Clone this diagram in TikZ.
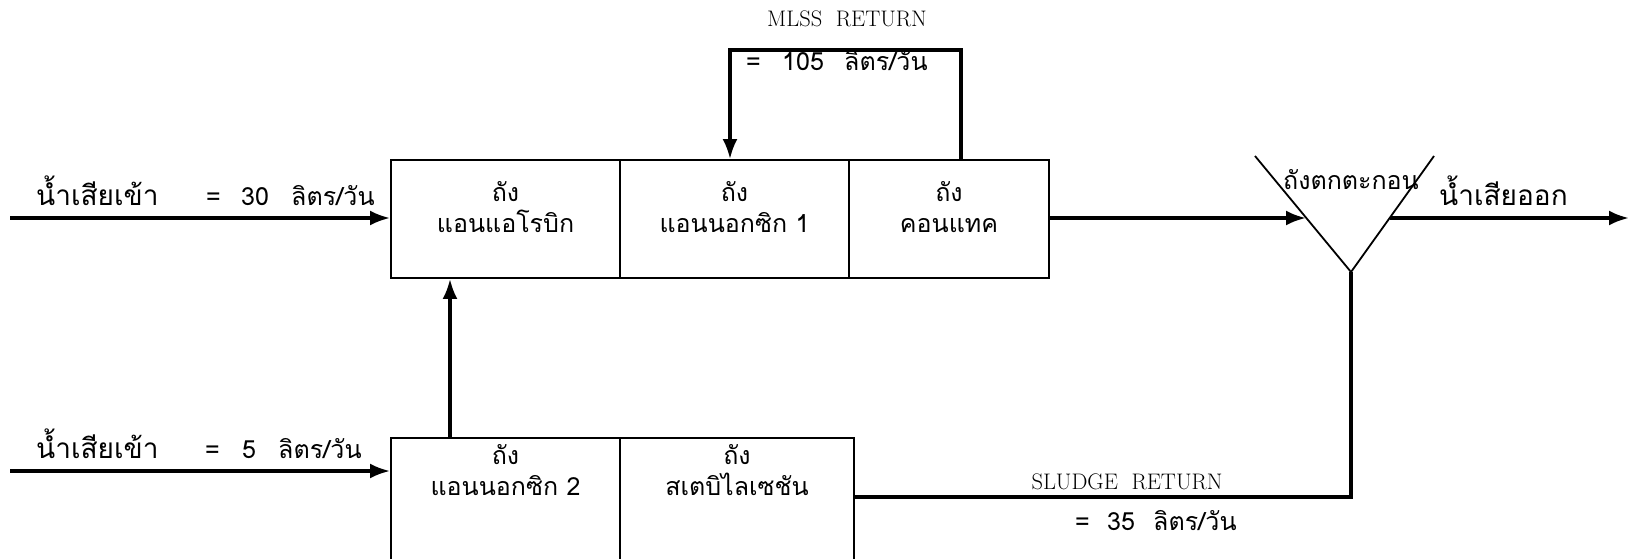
\documentclass[tikz,border=0pt]{standalone}
\usepackage{fontspec}
\newfontfamily\thai[Script=Thai]{Loma}
\usetikzlibrary{arrows.meta}
\tikzset{
  tank/.style={draw, line width=1.8pt, minimum height=118pt, inner sep=0pt},
  flow/.style={line width=3.4pt, -{Latex[length=20pt,width=15pt]}},
  plain/.style={line width=3.4pt},
  vline/.style={line width=1.8pt},
  th/.style={font=\thai\fontsize{25}{31}\selectfont, inner sep=0pt, align=center},
  thl/.style={font=\thai\fontsize{28}{31}\selectfont, inner sep=0pt, anchor=base west},
  lb/.style={font=\thai\fontsize{25}{31}\selectfont, inner sep=0pt, anchor=base west},
  en/.style={font=\fontsize{22.5}{26}\selectfont, inner sep=0pt},
}
\begin{document}
\begin{tikzpicture}[x=1pt,y=-1pt]
\clip (0,0) rectangle (1629,558);
\fill[white] (0,0) rectangle (1629,558);
% top tanks
\node[tank, minimum width=229pt] (b1) at (505.5,219) {};
\node[tank, minimum width=229pt] (b2) at (734.5,219) {};
\node[tank, minimum width=200pt] (b3) at (949,219) {};
\node[th] (t1) at (505.5,207) {ถัง\\แอนแอโรบิก};
\node[th] (t2) at (734.5,207) {ถัง\\แอนนอกซิก 1};
\node[th] (t3) at (949,207) {ถัง\\คอนแทค};
% bottom tanks
\node[tank, minimum width=229pt, minimum height=127pt] (c1) at (505.5,501.5) {};
\node[tank, minimum width=234pt, minimum height=127pt] (c2) at (737,501.5) {};
\node[th] (t4) at (505.5,470) {ถัง\\แอนนอกซิก 2};
\node[th] (t5) at (737,470) {ถัง\\สเตบิไลเซชัน};
% inflows
\coordinate (in1) at (10,218);
\coordinate (in2) at (10,471);
\draw[flow] (in1) -- (b1.west |- in1);
\draw[flow] (in2) -- (c1.west |- in2);
\node[thl] (l1a) at (36,205) {น้ำเสียเข้า};
\node[lb] (l1b) at (206,205) {=};
\node[lb] (l1c) at (241,205) {30};
\node[lb] (l1d) at (291,205) {ลิตร/วัน};
\node[thl] (l2a) at (36,458) {น้ำเสียเข้า};
\node[lb] (l2b) at (205,458) {=};
\node[lb] (l2c) at (242,458) {5};
\node[lb] (l2d) at (278,458) {ลิตร/วัน};
% up arrow
\coordinate (ux) at (450,0);
\draw[flow] (c1.north -| ux) -- (b1.south -| ux);
% MLSS return
\coordinate (mr) at (961,50);
\coordinate (ml) at (730,50);
\draw[flow] (b3.north -| mr) -- (mr) -- (ml) -- (b2.north -| ml);
\node[en] (mlss) at (847,19) {MLSS\ \ RETURN};
\node[lb] (m105a) at (746,70) {=};
\node[lb] (m105b) at (782,70) {105};
\node[lb] (m105c) at (844,70) {ลิตร/วัน};
% settling tank
\coordinate (vl) at (1255,156);
\coordinate (va) at (1351,272);
\coordinate (vr) at (1434,156);
\draw[vline] (vl) -- (va) -- (vr);
\coordinate (vin) at (1306,218);
\coordinate (vout) at (1390,218);
\coordinate (oend) at (1629,218);
\draw[flow] (b3.east |- vin) -- (vin);
\draw[flow] (vout) -- (oend);
\node[th] (st) at (1351,180) {ถังตกตะกอน};
\node[thl] (out) at (1439,205) {น้ำเสียออก};
% sludge return
\coordinate (sc) at (1351,497);
\draw[plain] (c2.east |- sc) -- (sc) -- (va);
\node[en] (sl) at (1127,482) {SLUDGE\ \ RETURN};
\node[lb] (s35a) at (1075,530) {=};
\node[lb] (s35b) at (1107,530) {35};
\node[lb] (s35c) at (1153,530) {ลิตร/วัน};
\end{tikzpicture}
\end{document}
